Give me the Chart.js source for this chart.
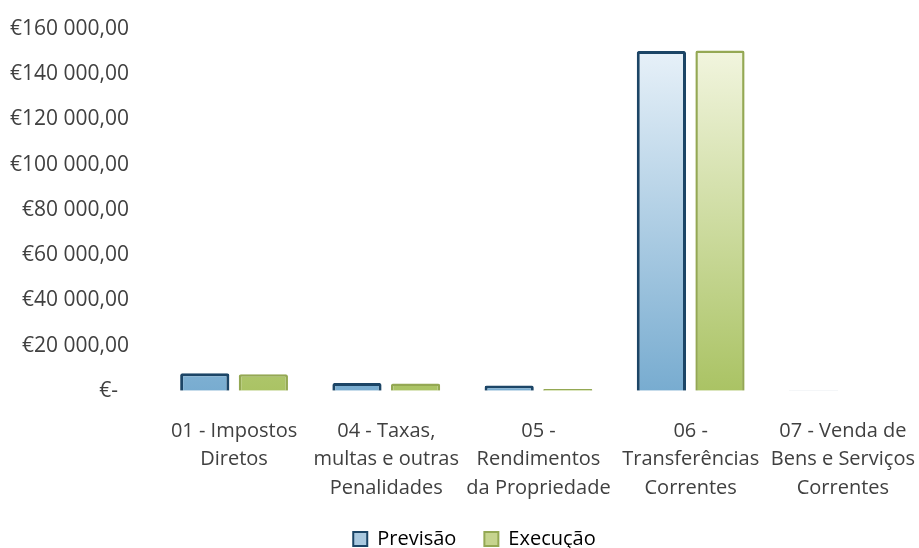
<!DOCTYPE html>
<html><head><meta charset="utf-8">
<script src="https://cdn.jsdelivr.net/npm/chart.js@4/dist/chart.umd.min.js"></script>
<style>html,body{margin:0;padding:0;background:#fff}#w{width:919px;height:548px}</style>
</head><body><div id="w"><canvas id="c"></canvas></div>
<script>
const categories = [
  ["01 - Impostos", "Diretos"],
  ["04 - Taxas,", "multas e outras", "Penalidades"],
  ["05 -", "Rendimentos", "da Propriedade"],
  ["06 -", "Transferências", "Correntes"],
  ["07 - Venda de", "Bens e Serviços", "Correntes"]
];
const seriesNames = ["Previsão", "Execução"];
const previsao = [7800, 3400, 2300, 150300, 150];
const execucao = [7300, 3200, 800, 150500, 0];
const yTicks = [0, 20000, 40000, 60000, 80000, 100000, 120000, 140000, 160000];

const FONT = "'Open Sans', sans-serif";
function fmt(v){
  if (v === 0) return "€-  ";
  const s = Math.round(v).toString().replace(/\B(?=(\d{3})+(?!\d))/g, " ");
  return "€" + s + ",00";
}
function grad(ctx, top, bottom){
  const chart = ctx.chart; const ca = chart.chartArea;
  if (!ca) return bottom;
  const g = chart.ctx.createLinearGradient(0, ca.top, 0, ca.bottom);
  g.addColorStop(0, top); g.addColorStop(1, bottom);
  return g;
}
const shiftLegend = {
  id: 'shiftLegend',
  afterLayout(c){ if (c.legend){ c.legend.left += 10; c.legend.right += 10; } }
};
new Chart(document.getElementById('c'), {
  type: 'bar',
  plugins: [shiftLegend],
  data: {
    labels: categories,
    datasets: [
      { label: seriesNames[0], data: previsao,
        backgroundColor: c => grad(c, '#eef5fb', '#78acd0'),
        borderColor: '#1c4566', borderWidth: 3, borderRadius: 2,
        categoryPercentage: 0.77, barPercentage: 0.84 },
      { label: seriesNames[1], data: execucao,
        backgroundColor: c => grad(c, '#f6f8e6', '#aac364'),
        borderColor: '#94a853', borderWidth: 2.5, borderRadius: 2,
        categoryPercentage: 0.77, barPercentage: 0.84 }
    ]
  },
  options: {
    responsive: true, maintainAspectRatio: false, animation: false,
    layout: { padding: { top: 29, right: 0, left: 10, bottom: -11 } },
    plugins: {
      tooltip: { enabled: false },
      legend: {
        position: 'bottom',
        labels: {
          font: { family: FONT, size: 20 }, color: '#404040',
          boxWidth: 14, boxHeight: 14, padding: 2,
          generateLabels: chart => [
            { text: seriesNames[0] + '     ', fillStyle: '#a9c8df', strokeStyle: '#1c4566', lineWidth: 2, datasetIndex: 0 },
            { text: seriesNames[1], fillStyle: '#c6d48e', strokeStyle: '#94a853', lineWidth: 2, datasetIndex: 1 }
          ]
        }
      }
    },
    scales: {
      x: {
        grid: { display: false, tickLength: 26 }, border: { display: false },
        ticks: { font: { family: FONT, size: 20, lineHeight: 1.42 }, color: '#404040',
                 maxRotation: 0, autoSkip: false, padding: 0 },
        afterFit: s => { s.height += 25; }
      },
      y: {
        min: 0, max: 160000,
        afterBuildTicks: a => { a.ticks = yTicks.map(v => ({ value: v })); },
        grid: { display: false, tickLength: 29 }, border: { display: false },
        ticks: { font: { family: FONT, size: 21 }, color: '#404040', padding: 0,
                 callback: v => fmt(v) }
      }
    }
  }
});
</script></body></html>
